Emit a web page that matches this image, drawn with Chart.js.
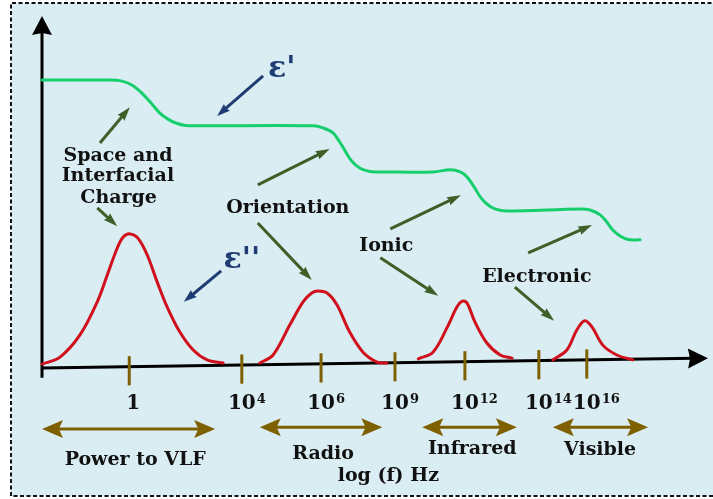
<!DOCTYPE html>
<html><head><meta charset="utf-8">
<script src="https://cdn.jsdelivr.net/npm/chart.js@4/dist/chart.umd.min.js"></script>
<style>html,body{margin:0;padding:0;background:#fff}</style>
</head><body>
<canvas id="c" width="713" height="499"></canvas>
<script>
// Schematic units: x = position along the log(f) axis (0..100), y = permittivity (0..100)
// epsilon' (real part) – step-wise decrease
const epsRealX = [0, 10.2, 12.0, 13.5, 15.0, 16.5, 17.7, 18.9, 20.1, 21.6, 23.7, 40.7, 42.2, 43.7, 44.7, 45.6, 46.5, 47.7, 49.2, 50.8, 58.7, 61.3, 62.8, 63.8, 64.9, 65.8, 66.8, 68.0, 69.8, 80.8, 82.3, 83.8, 84.8, 85.7, 86.8, 88.0, 89.8];
const epsRealY = [81.8, 81.8, 81.5, 80.4, 78.1, 75.0, 72.4, 70.7, 69.6, 68.9, 68.8, 68.8, 68.2, 66.8, 64.2, 61.4, 58.8, 56.8, 55.8, 55.7, 55.7, 56.3, 55.7, 54.3, 51.4, 48.6, 46.6, 45.2, 44.6, 45.2, 44.9, 43.5, 41.5, 39.2, 37.5, 36.5, 36.4];
// epsilon'' (loss) peaks
const lossSpaceX = [0, 2.7, 5.7, 8.3, 9.8, 11.3, 12.2, 13.2, 14.4, 15.8, 17.3, 18.8, 20.7, 22.7, 24.8, 27.2];
const lossSpaceY = [1.1, 3.1, 9.4, 18.8, 26.4, 34.1, 37.2, 38.1, 36.9, 32.1, 24.4, 17.3, 10.2, 5.1, 2.3, 1.4];
const lossOrientX = [32.7, 34.7, 37.2, 39.2, 40.5, 41.4, 42.8, 44.3, 46.2, 48.2, 50.3, 51.8];
const lossOrientY = [1.4, 3.7, 12.2, 18.8, 21.3, 21.9, 21.3, 17.9, 10.2, 4.5, 1.7, 1.4];
const lossIonicX = [56.5, 58.7, 60.8, 62.3, 63.1, 63.8, 65.0, 66.8, 68.8, 70.6];
const lossIonicY = [2.6, 4.5, 11.4, 17.3, 19.0, 18.5, 13.1, 7.1, 3.7, 2.8];
const lossElecX = [76.7, 78.8, 80.3, 81.5, 82.6, 84.2, 86.3, 88.7];
const lossElecY = [2.3, 5.1, 10.8, 13.4, 11.6, 6.5, 3.7, 2.3];
// frequency ticks
const tickPos = [13.1, 30.0, 41.9, 53.0, 63.5, 74.6, 81.8];
const tickBase = ['1', '10', '10', '10', '10', '10', '10'];
const tickExp = ['', '4', '6', '9', '12', '14', '16'];
// spectral bands
const bandNames = ['Power to VLF', 'Radio', 'Infrared', 'Visible'];
const bandFrom = [0, 32.7, 57.1, 76.7];
const bandTo = [26.0, 51.1, 71.3, 91.0];

const pts = (xs, ys) => xs.map((x, i) => ({x, y: ys[i]}));

// annotation layout (schematic units)
const bandArrowY = [-17.3, -16.8, -16.8, -16.8];
const bandLabelPos = [[14.0, -27.6], [42.2, -25.9], [64.6, -24.4], [83.8, -24.7]];
const procLabels = [
  ['Space and', 11.4, 58.8], ['Interfacial', 11.4, 53.1], ['Charge', 11.5, 46.9],
  ['Orientation', 36.9, 44.0], ['Ionic', 51.7, 33.2], ['Electronic', 74.3, 24.4]
];
const greenArrows = [
  [8.7, 63.9, 13.2, 74.1], [8.3, 45.5, 11.3, 40.3],
  [32.4, 52.0, 43.2, 62.2], [32.4, 41.2, 40.5, 25.0],
  [52.3, 39.5, 62.9, 49.1], [50.8, 31.3, 59.5, 20.5],
  [73.0, 32.7, 82.6, 40.6], [71.0, 23.0, 76.9, 13.4]
];
const blueArrows = [[33.2, 83.0, 26.3, 71.6], [26.9, 27.6, 21.3, 18.8]];
const epsLabels = [["ε'", 36.0, 82.7], ["ε''", 30.0, 28.4]];
const axisRise = 2.8;

const OLIVE = '#7f6000', DGREEN = '#3f5f28', NAVY = '#1f3d72';
const SERIF = 'bold 19px "DejaVu Serif"';

function arrowHead(ctx, x1, y1, x2, y2, len, hw, notch) {
  const a = Math.atan2(y2 - y1, x2 - x1), c = Math.cos(a), s = Math.sin(a);
  const bx = x2 - c * len, by = y2 - s * len;
  ctx.beginPath();
  ctx.moveTo(x2, y2);
  ctx.lineTo(bx - s * hw, by + c * hw);
  ctx.lineTo(x2 - c * len * (1 - (notch || 0)), y2 - s * len * (1 - (notch || 0)));
  ctx.lineTo(bx + s * hw, by - c * hw);
  ctx.closePath();
  ctx.fill();
}
function arrow(ctx, x1, y1, x2, y2, color, lw, len, hw, notch) {
  ctx.strokeStyle = color; ctx.fillStyle = color; ctx.lineWidth = lw; ctx.lineCap = 'butt';
  const a = Math.atan2(y2 - y1, x2 - x1);
  const ex = x2 - Math.cos(a) * len * 0.7, ey = y2 - Math.sin(a) * len * 0.7;
  ctx.beginPath(); ctx.moveTo(x1, y1); ctx.lineTo(ex, ey); ctx.stroke();
  arrowHead(ctx, x1, y1, x2, y2, len, hw, notch);
}

const deco = {
  id: 'deco',
  beforeDraw(chart) {
    const ctx = chart.ctx, W = chart.width, H = chart.height;
    ctx.save();
    ctx.fillStyle = '#ffffff'; ctx.fillRect(0, 0, W, H);
    ctx.fillStyle = '#daedf3'; ctx.fillRect(11, 3, W - 11, H - 6);
    ctx.setLineDash([4, 2.5]); ctx.lineWidth = 2; ctx.strokeStyle = '#111';
    ctx.beginPath(); ctx.moveTo(W + 5, 3); ctx.lineTo(11, 3); ctx.lineTo(11, H - 3); ctx.lineTo(W + 5, H - 3); ctx.stroke();
    ctx.restore();
  },
  beforeDatasetsDraw(chart) {
    const ctx = chart.ctx, X = v => chart.scales.x.getPixelForValue(v), Y = v => chart.scales.y.getPixelForValue(v);
    ctx.save();
    arrow(ctx, X(0), Y(0), X(100), Y(axisRise), '#000', 3, 20, 10, 0.1);
    arrow(ctx, X(0), Y(-2.8), X(0), Y(100), '#000', 3, 19, 10, 0.1);
    ctx.strokeStyle = OLIVE; ctx.lineWidth = 3;
    tickPos.forEach(t => {
      const base = t / 100 * axisRise;
      ctx.beginPath(); ctx.moveTo(X(t), Y(base + 3.0)); ctx.lineTo(X(t), Y(base - 5.3)); ctx.stroke();
    });
    ctx.restore();
  },
  afterDatasetsDraw(chart) {
    const ctx = chart.ctx, X = v => chart.scales.x.getPixelForValue(v), Y = v => chart.scales.y.getPixelForValue(v);
    ctx.save();
    ctx.fillStyle = '#111'; ctx.textBaseline = 'alphabetic';
    tickPos.forEach((t, i) => {
      ctx.font = 'bold 20px "DejaVu Serif"';
      const w = ctx.measureText(tickBase[i]).width;
      const x0 = X(t) - w / 2 + (tickExp[i] ? 0 : 4), yb = Y(-11.6);
      ctx.textAlign = 'left';
      ctx.fillText(tickBase[i], x0, yb);
      if (tickExp[i]) { ctx.font = 'bold 13px "DejaVu Serif"'; ctx.fillText(tickExp[i], x0 + w + 1, yb - 6); }
    });
    bandNames.forEach((n, i) => {
      const y = Y(bandArrowY[i]);
      ctx.strokeStyle = OLIVE; ctx.fillStyle = OLIVE; ctx.lineWidth = 3;
      ctx.beginPath(); ctx.moveTo(X(bandFrom[i]) + 14, y); ctx.lineTo(X(bandTo[i]) - 14, y); ctx.stroke();
      arrowHead(ctx, X(bandTo[i]), y, X(bandFrom[i]), y, 21, 9, 0.2);
      arrowHead(ctx, X(bandFrom[i]), y, X(bandTo[i]), y, 21, 9, 0.2);
      ctx.fillStyle = '#111'; ctx.font = SERIF; ctx.textAlign = 'center';
      ctx.fillText(n, X(bandLabelPos[i][0]), Y(bandLabelPos[i][1]));
    });
    ctx.font = SERIF; ctx.textAlign = 'center'; ctx.fillStyle = '#111';
    ctx.fillText('log (f) Hz', X(52.0), Y(-32.1));
    procLabels.forEach(([t, x, y]) => ctx.fillText(t, X(x), Y(y)));
    greenArrows.forEach(([a, b, c, d]) => arrow(ctx, X(a), Y(b), X(c), Y(d), DGREEN, 3, 14, 4.5, 0.1));
    blueArrows.forEach(([a, b, c, d]) => arrow(ctx, X(a), Y(b), X(c), Y(d), NAVY, 3, 13, 4.5, 0.1));
    ctx.fillStyle = NAVY; ctx.font = 'bold 30px "DejaVu Serif"';
    epsLabels.forEach(([t, x, y]) => ctx.fillText(t, X(x), Y(y)));
    ctx.restore();
  }
};

const lineDs = (data, color) => ({
  data, borderColor: color, borderWidth: 3, pointRadius: 0, fill: false,
  tension: 0.35, clip: false, borderCapStyle: 'round', borderJoinStyle: 'round'
});

new Chart(document.getElementById('c'), {
  type: 'line',
  data: {
    datasets: [
      lineDs(pts(epsRealX, epsRealY), '#16cf6c'),
      lineDs(pts(lossSpaceX, lossSpaceY), '#d0101c'),
      lineDs(pts(lossOrientX, lossOrientY), '#d0101c'),
      lineDs(pts(lossIonicX, lossIonicY), '#d0101c'),
      lineDs(pts(lossElecX, lossElecY), '#d0101c')
    ]
  },
  options: {
    responsive: false, animation: false, events: [],
    layout: { padding: { left: 42, top: 16, right: 5, bottom: 131 } },
    plugins: { legend: { display: false }, tooltip: { enabled: false } },
    scales: {
      x: { type: 'linear', min: 0, max: 100, display: false },
      y: { type: 'linear', min: 0, max: 100, display: false }
    }
  },
  plugins: [deco]
});
</script>
</body></html>
